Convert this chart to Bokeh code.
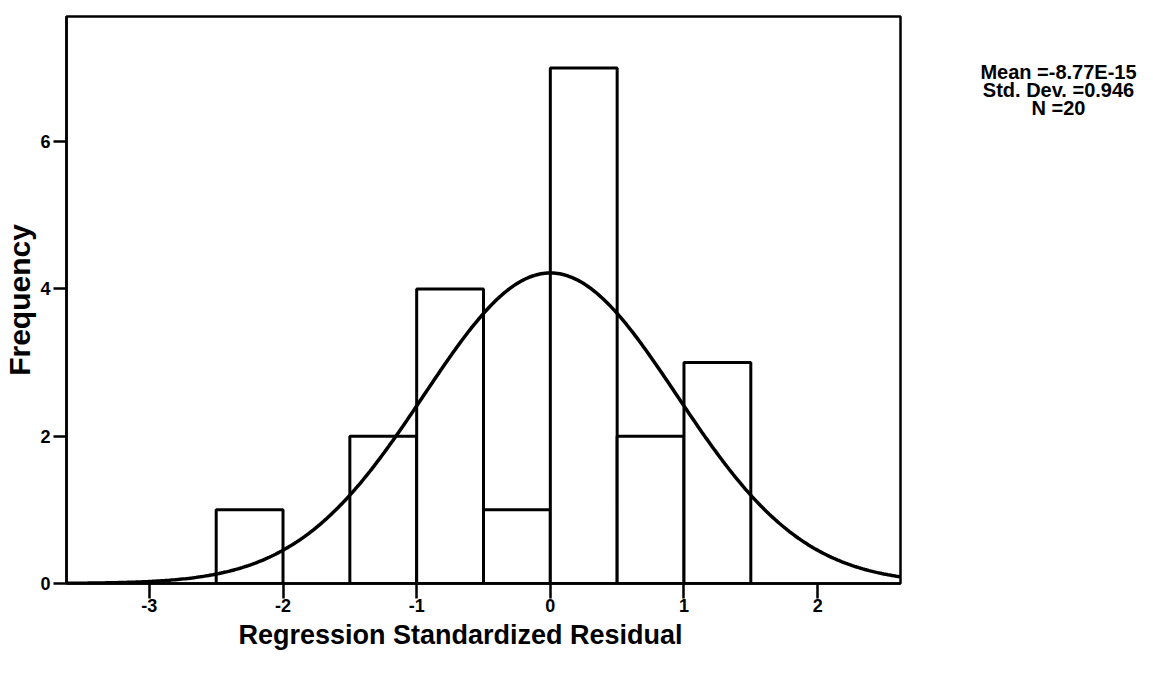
import numpy as np
from bokeh.plotting import figure
from bokeh.layouts import row
from bokeh.models import ColumnDataSource, FixedTicker, Title
from bokeh.core.properties import value
from bokeh.embed import file_html
from bokeh.resources import INLINE

# Histogram bins (residual intervals) and counts
bin_left = [-2.5, -1.5, -1.0, -0.5, 0.0, 0.5, 1.0]
bin_right = [-2.0, -1.0, -0.5, 0.0, 0.5, 1.0, 1.5]
counts = [1, 2, 4, 1, 7, 2, 3]

# Summary statistics
mean_val = -8.77e-15
std_val = 0.946
n_val = 20
bin_width = 0.5

x_ticks = [-3, -2, -1, 0, 1, 2]
x_tick_labels = ["-3", "-2", "-1", "0", "1", "2"]
y_ticks = [0, 2, 4, 6]
stats_lines = ["Mean =-8.77E-15", "Std. Dev. =0.946", "N =20"]
x_title = "Regression Standardized Residual"
y_title = "Frequency"

FONT = "Liberation Sans"

p = figure(width=902, height=666, output_backend="svg", toolbar_location=None,
           x_range=(-3.62, 2.62), y_range=(0, 7.7),
           min_border_left=63, min_border_right=2, min_border_top=16, min_border_bottom=83)

p.background_fill_color = "white"
p.border_fill_color = "white"
p.outline_line_color = "black"
p.outline_line_width = 2.5
p.xgrid.visible = False
p.ygrid.visible = False

src = ColumnDataSource(dict(left=bin_left, right=bin_right, top=counts, bottom=[0] * len(counts)))
p.quad(left="left", right="right", top="top", bottom="bottom", source=src,
       fill_color="white", line_color="black", line_width=3)

# Fitted normal curve
xs = np.linspace(-3.62, 2.62, 400)
ys = n_val * bin_width * np.exp(-0.5 * ((xs - mean_val) / std_val) ** 2) / (std_val * np.sqrt(2 * np.pi))
p.line(xs, ys, line_color="black", line_width=3.5)

for ax in (p.xaxis[0], p.yaxis[0]):
    ax.axis_line_color = "black"
    ax.axis_line_width = 2.5
    ax.major_tick_line_color = "black"
    ax.major_tick_line_width = 2.5
    ax.major_tick_in = 0
    ax.minor_tick_line_color = None
    ax.major_label_text_font = FONT
    ax.major_label_text_font_style = "bold"
    ax.major_label_text_font_size = "18px"
    ax.major_label_text_color = "black"
    ax.axis_label_text_font = FONT
    ax.axis_label_text_font_style = "bold"
    ax.axis_label_text_color = "black"

p.xaxis.ticker = FixedTicker(ticks=x_ticks)
p.xaxis.major_label_overrides = dict(zip(x_ticks, x_tick_labels))
p.yaxis.ticker = FixedTicker(ticks=y_ticks)
p.xaxis.major_tick_out = 15
p.yaxis.major_tick_out = 13
p.xaxis.major_label_standoff = 0
p.yaxis.major_label_standoff = 3
p.yaxis.axis_label = y_title
p.yaxis.axis_label_text_font_size = "30px"
p.yaxis.axis_label_standoff = 1

p.add_layout(Title(text=x_title, align="left", offset=172, text_font=FONT,
                   text_font_style="bold", text_font_size="27px", text_color="black",
                   standoff=6), "below")

# Side panel with the statistics text
s = figure(width=245, height=666, output_backend="svg", toolbar_location=None,
           x_range=(0, 245), y_range=(666, 0), min_border=0)
s.axis.visible = False
s.grid.visible = False
s.outline_line_color = None
s.background_fill_color = "white"
s.border_fill_color = "white"
s.text(x=[156, 156, 156], y=[65, 86, 107], text=stats_lines,
       text_align="center", text_baseline="middle",
       text_font=value(FONT), text_font_style="bold", text_font_size="20px",
       text_color="black")

layout = row(p, s, spacing=0)
open("out.html", "w").write(file_html(layout, INLINE))
